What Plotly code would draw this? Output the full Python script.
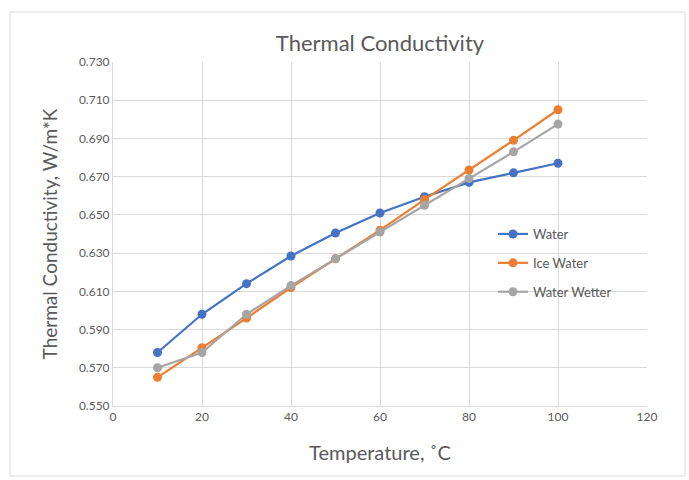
import plotly.graph_objects as go

temps = [10, 20, 30, 40, 50, 60, 70, 80, 90, 100]
water = [0.578, 0.598, 0.614, 0.6285, 0.6405, 0.651, 0.6595, 0.667, 0.672, 0.677]
ice_water = [0.565, 0.5805, 0.596, 0.612, 0.627, 0.642, 0.658, 0.6735, 0.689, 0.705]
water_wetter = [0.570, 0.578, 0.598, 0.613, 0.627, 0.641, 0.655, 0.669, 0.683, 0.6975]

series = [("Water", water, "#4472C4"),
          ("Ice Water", ice_water, "#ED7D31"),
          ("Water Wetter", water_wetter, "#A5A5A5")]

fig = go.Figure()
for name, vals, col in series:
    fig.add_trace(go.Scatter(x=temps, y=vals, name=name, mode="lines+markers",
                             legendgroup=name,
                             line=dict(color=col, width=2.2),
                             marker=dict(color=col, size=9)))

font_fam = "Lato, Open Sans, sans-serif"
fig.update_layout(
    width=689, height=480,
    margin=dict(l=113, r=42, t=62, b=74),
    paper_bgcolor="white", plot_bgcolor="white",
    font=dict(family=font_fam, color="#595959", size=12),
    title=dict(text="Thermal Conductivity", x=(113 + 647) / 2 / 689, xanchor="center",
               y=1 - 43 / 480, yanchor="middle",
               font=dict(size=22, color="#595959", family=font_fam)),
    xaxis=dict(range=[0, 120], dtick=20, tick0=0, showgrid=True, gridcolor="#d9d9d9",
               gridwidth=1, zeroline=False, showline=True, linecolor="#d9d9d9", linewidth=1,
               ticks="", tickfont=dict(size=12, color="#595959"),
               title=dict(text="Temperature, ˚C", font=dict(size=20, color="#595959"), standoff=22)),
    yaxis=dict(range=[0.55, 0.73], dtick=0.02, tick0=0.55, tickformat=".3f", showgrid=True,
               gridcolor="#d9d9d9", gridwidth=1, zeroline=False, showline=True,
               linecolor="#d9d9d9", linewidth=1, ticks="",
               tickfont=dict(size=12, color="#595959"),
               title=dict(text="Thermal Conductivity, W/m*K", font=dict(size=19, color="#595959"), standoff=16)),
    legend=dict(x=(493 - 113) / (647 - 113), y=1 - (219 - 62) / 344, xanchor="left", yanchor="top",
                bgcolor="rgba(0,0,0,0)", font=dict(size=13, color="#595959"),
                tracegroupgap=9, itemwidth=30),
    showlegend=True,
)
fig.add_shape(type="rect", xref="paper", yref="paper",
              x0=(10 - 113) / 534, x1=(685 - 113) / 534,
              y0=(406 - 476) / 344, y1=(406 - 12) / 344,
              line=dict(color="#d9d9d9", width=1), layer="below")

fig.write_html("out.html")
